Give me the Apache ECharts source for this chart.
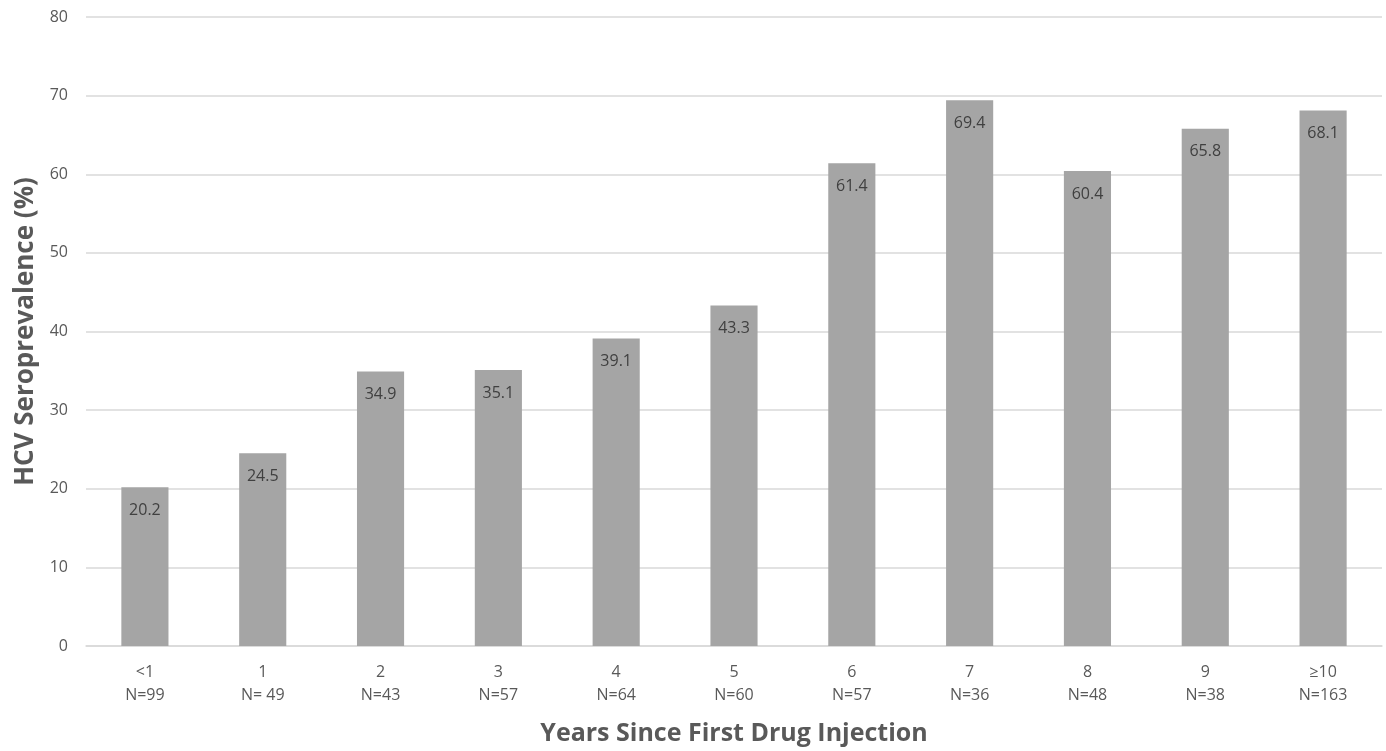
<!DOCTYPE html>
<html>
<head>
<meta charset="utf-8">
<script src="https://cdn.jsdelivr.net/npm/echarts@6/dist/echarts.min.js"></script>
<style>html,body{margin:0;padding:0;background:#fff}#c{width:1386px;height:751px}</style>
</head>
<body>
<div id="c"></div>
<script>
const categories = ['<1', '1', '2', '3', '4', '5', '6', '7', '8', '9', '≥10'];
const sampleSizes = ['N=99', 'N= 49', 'N=43', 'N=57', 'N=64', 'N=60', 'N=57', 'N=36', 'N=48', 'N=38', 'N=163'];
const seroprevalence = [20.2, 24.5, 34.9, 35.1, 39.1, 43.3, 61.4, 69.4, 60.4, 65.8, 68.1];
const yTicks = [0, 10, 20, 30, 40, 50, 60, 70, 80];

const labels = categories.map((c, i) => c + '\n' + sampleSizes[i]);
const font = '"Open Sans", "Noto Sans", sans-serif';
const chart = echarts.init(document.getElementById('c'));
chart.setOption({
  animation: false,
  grid: { left: 86, right: 4, top: 17, bottom: 103 },
  xAxis: {
    type: 'category',
    data: labels,
    axisLine: { lineStyle: { color: '#d9d9d9', width: 1.5 } },
    axisTick: { show: false },
    axisLabel: { color: '#595959', fontSize: 16, fontFamily: font, lineHeight: 23, margin: 15 },
    name: 'Years Since First Drug Injection',
    nameLocation: 'middle',
    nameGap: 75,
    nameTextStyle: { color: '#595959', fontSize: 25, fontWeight: 'bold', fontFamily: font }
  },
  yAxis: {
    type: 'value',
    min: yTicks[0],
    max: yTicks[yTicks.length - 1],
    interval: 10,
    axisLine: { show: false },
    axisTick: { show: false },
    splitLine: { lineStyle: { color: '#d9d9d9', width: 1.5 } },
    axisLabel: { color: '#595959', fontSize: 16, fontFamily: font, margin: 18 },
    name: 'HCV Seroprevalence (%)',
    nameLocation: 'middle',
    nameGap: 42,
    nameTextStyle: { color: '#595959', fontSize: 26, fontWeight: 'bold', fontFamily: font }
  },
  series: [{
    type: 'bar',
    data: seroprevalence,
    barWidth: '40%',
    itemStyle: { color: '#a5a5a5' },
    label: {
      show: true,
      position: 'insideTop',
      distance: 15,
      color: '#404040',
      fontSize: 16,
      fontFamily: font,
      formatter: p => p.value.toFixed(1)
    }
  }]
});
</script>
</body>
</html>
